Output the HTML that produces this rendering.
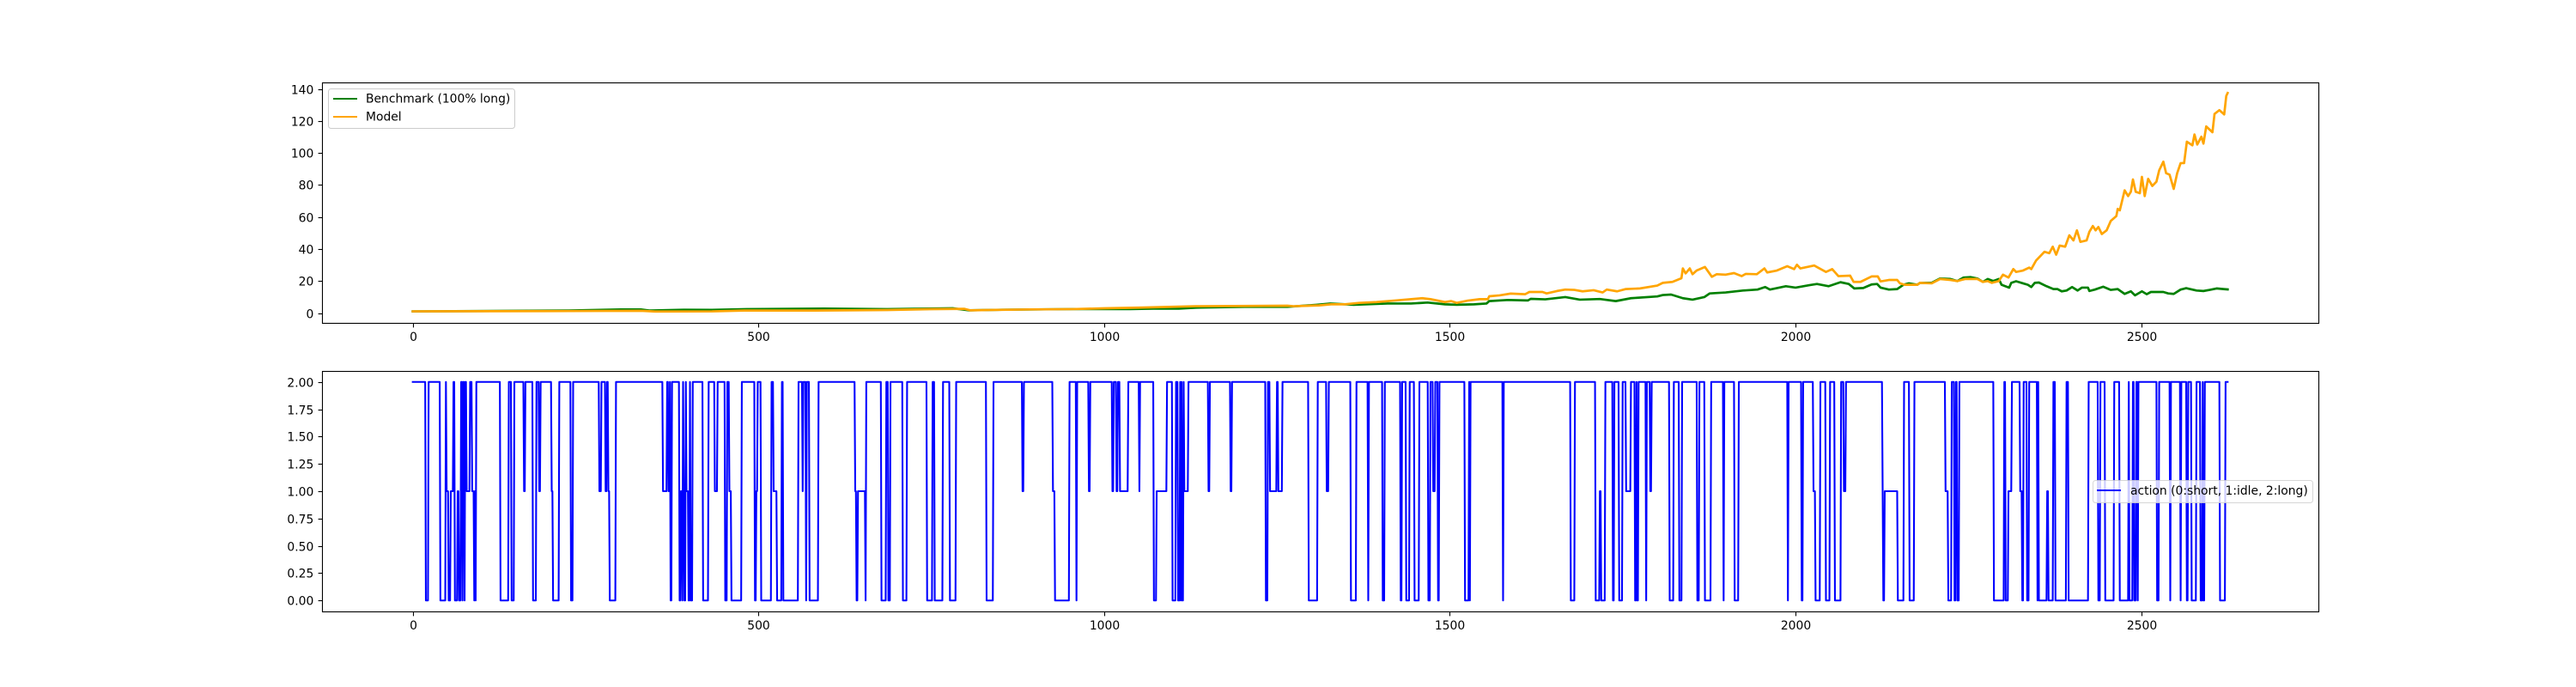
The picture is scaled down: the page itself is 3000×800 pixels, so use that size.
<!DOCTYPE html>
<html>
<head>
<meta charset="utf-8">
<title>Benchmark vs Model and actions</title>
<style>
html,body{margin:0;padding:0;background:#fff;width:3000px;height:800px;overflow:hidden}
svg{display:block}
text{font-family:"DejaVu Sans","Liberation Sans",sans-serif;font-size:13.89px;fill:#000}
</style>
</head>
<body>
<svg id="fig" xmlns="http://www.w3.org/2000/svg" width="3000" height="800" viewBox="0 0 3000 800">
  <rect x="0" y="0" width="3000" height="800" fill="#fff"/>
  <g id="top-axes"></g>
  <g id="bottom-axes"></g>
  <g>
    <rect x="382.5" y="103.5" width="217" height="46" rx="3" fill="#fff" fill-opacity="0.8" stroke="#ccc" stroke-width="1"/>
    <line x1="388" y1="115" x2="416" y2="115" stroke="#008000" stroke-width="2.08"/>
    <text x="426" y="119.5">Benchmark (100% long)</text>
    <line x1="388" y1="136" x2="416" y2="136" stroke="#FFA500" stroke-width="2.08"/>
    <text x="426" y="140.5">Model</text>
  </g>
  <g>
    <rect x="2437.5" y="559.5" width="256" height="26" rx="3" fill="#fff" fill-opacity="0.8" stroke="#ccc" stroke-opacity="0.8" stroke-width="1"/>
    <line x1="2442" y1="571" x2="2470" y2="571" stroke="#0000FF" stroke-width="2.08"/>
    <text x="2481" y="576">action (0:short, 1:idle, 2:long)</text>
  </g>
</svg>
<script>
const xTicks = [0, 500, 1000, 1500, 2000, 2500];
const topYTicks = [0, 20, 40, 60, 80, 100, 120, 140];
const bottomYTicks = [0, 0.25, 0.5, 0.75, 1, 1.25, 1.5, 1.75, 2];
const bottomYLabels = ['0.00', '0.25', '0.50', '0.75', '1.00', '1.25', '1.50', '1.75', '2.00'];

const benchmarkSteps = [0,226,301,330,342,392,433,483,595,686,781,804,852,955,1038,1071,1108,1133,1203,1265,1307,1327,1361,1410,1444,1468,1493,1510,1535,1553,1557,1584,1613,1617,1638,1667,1688,1717,1740,1762,1800,1808,1820,1837,1851,1868,1876,1899,1924,1945,1956,1963,1986,2000,2021,2031,2048,2065,2077,2085,2098,2110,2118,2123,2135,2147,2156,2164,2176,2180,2197,2209,2224,2234,2243,2253,2263,2271,2278,2286,2294,2298,2309,2312,2319,2329,2336,2341,2346,2352,2363,2373,2379,2385,2392,2400,2408,2414,2423,2425,2433,2445,2456,2466,2476,2485,2491,2501,2508,2514,2532,2539,2547,2557,2565,2580,2590,2599,2609,2619,2625];
const benchmarkValues = [1.05,1.6,2.3,2.3,1.6,2.1,2,2.47,2.8,2.47,3,1.75,2.1,2.5,2.5,2.8,2.8,3.4,3.9,3.9,5.2,6,5.2,6,6,6.6,5.5,5.2,5.5,6,7.5,8.2,7.9,8.9,8.6,10,8.4,8.8,7.5,9.3,10.4,11.3,11.6,9.3,8.4,10,12.3,12.9,14.1,14.7,16.3,14.7,16.8,15.9,17.5,18.2,16.8,19.3,18.2,15.4,15.7,17.9,18.2,15.9,14.7,15,17.7,18.6,17.7,18.9,18.9,21.6,21.3,20,22.2,22.5,21.6,19.5,21.3,20,21.3,17.7,15.9,18.9,19.9,18.6,17.7,16.3,18.9,19.1,16.8,15,15,13.6,14.1,16.3,14.1,15.9,15.9,13.8,14.7,16.5,14.5,15,12,13.6,11.1,13.6,11.8,13.2,13.2,12.3,12,14.7,15.6,14.1,13.8,14.5,15.4,15,14.8];

const modelSteps = [0,227,330,351,433,479,582,686,748,798,806,893,955,1000,1050,1133,1265,1274,1311,1328,1348,1369,1394,1419,1460,1472,1493,1502,1510,1526,1543,1555,1557,1572,1588,1609,1615,1634,1640,1655,1667,1680,1692,1708,1721,1727,1742,1754,1775,1800,1808,1822,1835,1837,1841,1847,1851,1857,1869,1879,1886,1899,1911,1922,1928,1944,1955,1959,1973,1988,1998,2002,2007,2027,2044,2053,2062,2079,2084,2094,2110,2119,2123,2135,2147,2151,2158,2176,2180,2197,2209,2224,2234,2245,2263,2271,2278,2284,2294,2300,2308,2315,2319,2329,2338,2341,2348,2360,2367,2372,2377,2382,2390,2396,2402,2407,2412,2421,2425,2430,2434,2438,2443,2450,2456,2464,2466,2469,2476,2481,2485,2488,2492,2498,2501,2505,2510,2516,2522,2526,2532,2536,2541,2547,2552,2557,2562,2566,2574,2577,2581,2587,2590,2594,2603,2606,2613,2620,2623,2625];
const modelValues = [1.1,1.3,1.45,1,1.1,1.6,1.6,1.93,2.47,2.65,1.75,2.3,2.5,3,3.4,4.3,4.6,4.3,4.8,5.5,5.5,6.4,6.9,7.8,9.3,8.7,6.9,7.5,6.4,7.8,8.7,8.7,10.5,11.1,12.2,11.8,13.2,13.2,12.3,13.8,14.7,14.5,13.6,14.3,12.9,14.7,13.6,15,15.4,17.2,18.9,19.5,21.8,27.9,24.8,27.9,24.3,26.6,28.8,22.7,24.3,24,25,23.1,24.5,24.3,27.9,25.4,26.6,29.3,27.5,30.2,27.9,29.7,25.7,27.5,23.1,23.4,19.5,19.5,22.9,22.9,19.8,20.7,20.7,18.6,17.7,17.7,18.9,18.6,21.3,20.7,20,21.3,21.3,19.5,20,18.9,20,24,22.2,27.5,25.7,26.6,28.4,27.5,32.9,38.3,37.4,41.5,36.5,42.2,41.5,48.6,45.4,51.7,44.5,45.4,50.8,54.4,51.7,53.8,49.4,51.7,57.6,60.6,65.1,64.2,76.7,73.1,75.8,83.5,75.8,74.9,85.1,73.1,83.9,79.4,82.1,89.2,94.6,87.4,86.5,77.6,87.4,93.7,93.7,107.1,104.8,111.6,105.3,110.2,105.9,116.6,113,124.4,126.8,124.1,135.7,137.5];

const actionSteps = [0,19,23,40,48,49,52,55,59,61,65,67,70,72,73,75,76,78,83,86,89,90,91,92,127,139,143,147,161,163,174,179,183,185,201,203,212,229,232,270,273,279,281,283,285,294,362,368,370,372,373,375,386,388,390,391,392,393,395,396,399,401,402,405,420,428,437,441,452,455,458,461,476,495,497,499,504,519,522,527,534,536,558,564,565,569,570,574,587,640,642,644,655,656,678,685,688,691,709,715,744,752,755,767,777,786,830,840,882,884,926,929,950,960,961,978,980,1012,1014,1018,1020,1023,1035,1051,1052,1072,1076,1091,1099,1104,1107,1110,1111,1112,1113,1115,1116,1122,1151,1153,1183,1185,1234,1237,1240,1250,1252,1258,1296,1309,1322,1325,1357,1365,1382,1383,1403,1406,1429,1431,1437,1442,1449,1456,1469,1472,1476,1479,1483,1485,1522,1528,1529,1530,1577,1578,1675,1681,1711,1717,1719,1725,1736,1738,1745,1750,1755,1762,1768,1770,1771,1773,1784,1785,1790,1792,1818,1824,1832,1836,1858,1861,1869,1878,1896,1897,1912,1918,1989,1990,2009,2011,2026,2029,2036,2044,2050,2057,2066,2070,2073,2126,2127,2129,2148,2157,2165,2172,2217,2221,2226,2230,2232,2234,2237,2287,2302,2304,2308,2313,2325,2328,2330,2335,2338,2350,2351,2352,2364,2366,2373,2376,2392,2395,2424,2438,2441,2448,2461,2469,2482,2483,2488,2490,2493,2495,2496,2523,2526,2542,2543,2557,2558,2566,2568,2573,2580,2586,2589,2590,2592,2614,2622];
const actionValues = [2,0,2,0,2,1,0,1,2,0,1,0,2,0,2,0,2,1,2,1,0,1,0,2,0,2,0,2,1,2,0,2,1,2,1,0,2,0,2,1,2,1,2,1,0,2,1,2,1,2,0,2,0,1,0,2,1,0,2,1,0,2,0,2,0,2,1,2,0,2,1,0,2,0,1,2,0,2,1,0,2,0,2,1,2,0,2,0,2,1,0,1,0,2,0,2,0,2,0,2,0,2,0,2,0,2,0,2,1,2,1,0,2,0,2,1,2,1,2,1,2,1,2,1,2,0,1,2,0,2,0,2,0,2,0,2,1,2,1,2,1,2,0,2,1,2,1,2,0,2,1,2,0,2,0,2,0,2,0,2,0,2,0,2,0,2,1,2,0,2,0,2,0,2,0,2,0,2,0,1,0,2,0,2,0,2,1,2,0,2,0,2,0,2,1,2,0,2,0,2,0,2,0,2,0,2,0,2,0,2,0,2,1,0,2,0,2,0,2,1,2,1,0,1,0,2,0,2,1,0,2,0,2,0,2,0,2,0,1,2,1,0,2,0,2,0,2,0,1,0,2,0,2,0,2,0,2,0,2,0,2,0,2,0,2,0,2,0,2,0,2,0,2,0,2,0,2,0,2,0,2,0,2];
const actionLastStep = 2625;

const SVG_NS = 'http://www.w3.org/2000/svg';
const X_MIN = -131.25, X_MAX = 2756.25;
const AX_LEFT = 375, AX_RIGHT = 2700;
const TOP_BOX = {top: 96, bottom: 376, ymin: -6.116, ymax: 144.1};
const BOTTOM_BOX = {top: 432, bottom: 712, ymin: -0.1, ymax: 2.1};

function xScale(t) {
  return AX_LEFT + (t - X_MIN) * (AX_RIGHT - AX_LEFT) / (X_MAX - X_MIN);
}
function yScale(box, v) {
  return box.bottom - (v - box.ymin) * (box.bottom - box.top) / (box.ymax - box.ymin);
}
function pathFromSeries(steps, values, box) {
  let d = '';
  for (let i = 0; i < steps.length; i++) {
    d += (i ? 'L' : 'M') + xScale(steps[i]).toFixed(2) + ' ' + yScale(box, values[i]).toFixed(2);
  }
  return d;
}
function stepPath(steps, values, last, box) {
  let d = 'M' + xScale(steps[0]).toFixed(2) + ' ' + yScale(box, values[0]).toFixed(2);
  for (let i = 1; i < steps.length; i++) {
    d += 'L' + xScale(steps[i] - 1).toFixed(2) + ' ' + yScale(box, values[i - 1]).toFixed(2);
    d += 'L' + xScale(steps[i]).toFixed(2) + ' ' + yScale(box, values[i]).toFixed(2);
  }
  d += 'L' + xScale(last).toFixed(2) + ' ' + yScale(box, values[values.length - 1]).toFixed(2);
  return d;
}
function addLine(parent, color, d, width) {
  const p = document.createElementNS(SVG_NS, 'path');
  p.setAttribute('d', d);
  p.setAttribute('fill', 'none');
  p.setAttribute('stroke', color);
  p.setAttribute('stroke-width', width);
  p.setAttribute('stroke-linejoin', 'round');
  p.setAttribute('stroke-linecap', 'square');
  parent.appendChild(p);
  return p;
}
function addFrame(parent, box) {
  const r = document.createElementNS(SVG_NS, 'rect');
  
  
  r.setAttribute('x', AX_LEFT + 0.5);
  r.setAttribute('y', box.top + 0.5);
  r.setAttribute('width', AX_RIGHT - AX_LEFT);
  r.setAttribute('height', box.bottom - box.top);
  r.setAttribute('fill', 'none');
  r.setAttribute('stroke', '#000');
  r.setAttribute('stroke-width', '1.1');
  parent.appendChild(r);
}
function addXTicks(parent, box) {
  xTicks.forEach(function (t) {
    const px = Math.round(xScale(t)) + 0.5;
    const tick = document.createElementNS(SVG_NS, 'line');
    
    
    tick.setAttribute('x1', px);
    tick.setAttribute('x2', px);
    tick.setAttribute('y1', box.bottom + 0.5);
    tick.setAttribute('y2', box.bottom + 5.4);
    tick.setAttribute('stroke', '#000');
    tick.setAttribute('stroke-width', '1.1');
    parent.appendChild(tick);
    const label = document.createElementNS(SVG_NS, 'text');
    
    
    label.setAttribute('x', px);
    label.setAttribute('y', box.bottom + 21);
    label.setAttribute('text-anchor', 'middle');
    label.textContent = String(t);
    parent.appendChild(label);
  });
}
function addYTicks(parent, box, ticks, labels) {
  ticks.forEach(function (v, i) {
    const py = Math.round(yScale(box, v)) + 0.5;
    const tick = document.createElementNS(SVG_NS, 'line');
    
    
    tick.setAttribute('x1', AX_LEFT - 4.4);
    tick.setAttribute('x2', AX_LEFT + 0.5);
    tick.setAttribute('y1', py);
    tick.setAttribute('y2', py);
    tick.setAttribute('stroke', '#000');
    tick.setAttribute('stroke-width', '1.1');
    parent.appendChild(tick);
    const label = document.createElementNS(SVG_NS, 'text');
    
    
    label.setAttribute('x', AX_LEFT - 9.7);
    label.setAttribute('y', py + 4.8);
    label.setAttribute('text-anchor', 'end');
    label.textContent = labels[i];
    parent.appendChild(label);
  });
}

const topGroup = document.getElementById('top-axes');
const bottomGroup = document.getElementById('bottom-axes');

const benchmarkLine = addLine(topGroup, '#008000', pathFromSeries(benchmarkSteps, benchmarkValues, TOP_BOX), '2.7');


const modelLine = addLine(topGroup, '#FFA500', pathFromSeries(modelSteps, modelValues, TOP_BOX), '2.7');


addFrame(topGroup, TOP_BOX);
addXTicks(topGroup, TOP_BOX);
addYTicks(topGroup, TOP_BOX, topYTicks, topYTicks.map(String));

const actionLine = addLine(bottomGroup, '#0000FF', stepPath(actionSteps, actionValues, actionLastStep, BOTTOM_BOX), '2.08');


addFrame(bottomGroup, BOTTOM_BOX);
addXTicks(bottomGroup, BOTTOM_BOX);
addYTicks(bottomGroup, BOTTOM_BOX, bottomYTicks, bottomYLabels);
</script>
</body>
</html>
